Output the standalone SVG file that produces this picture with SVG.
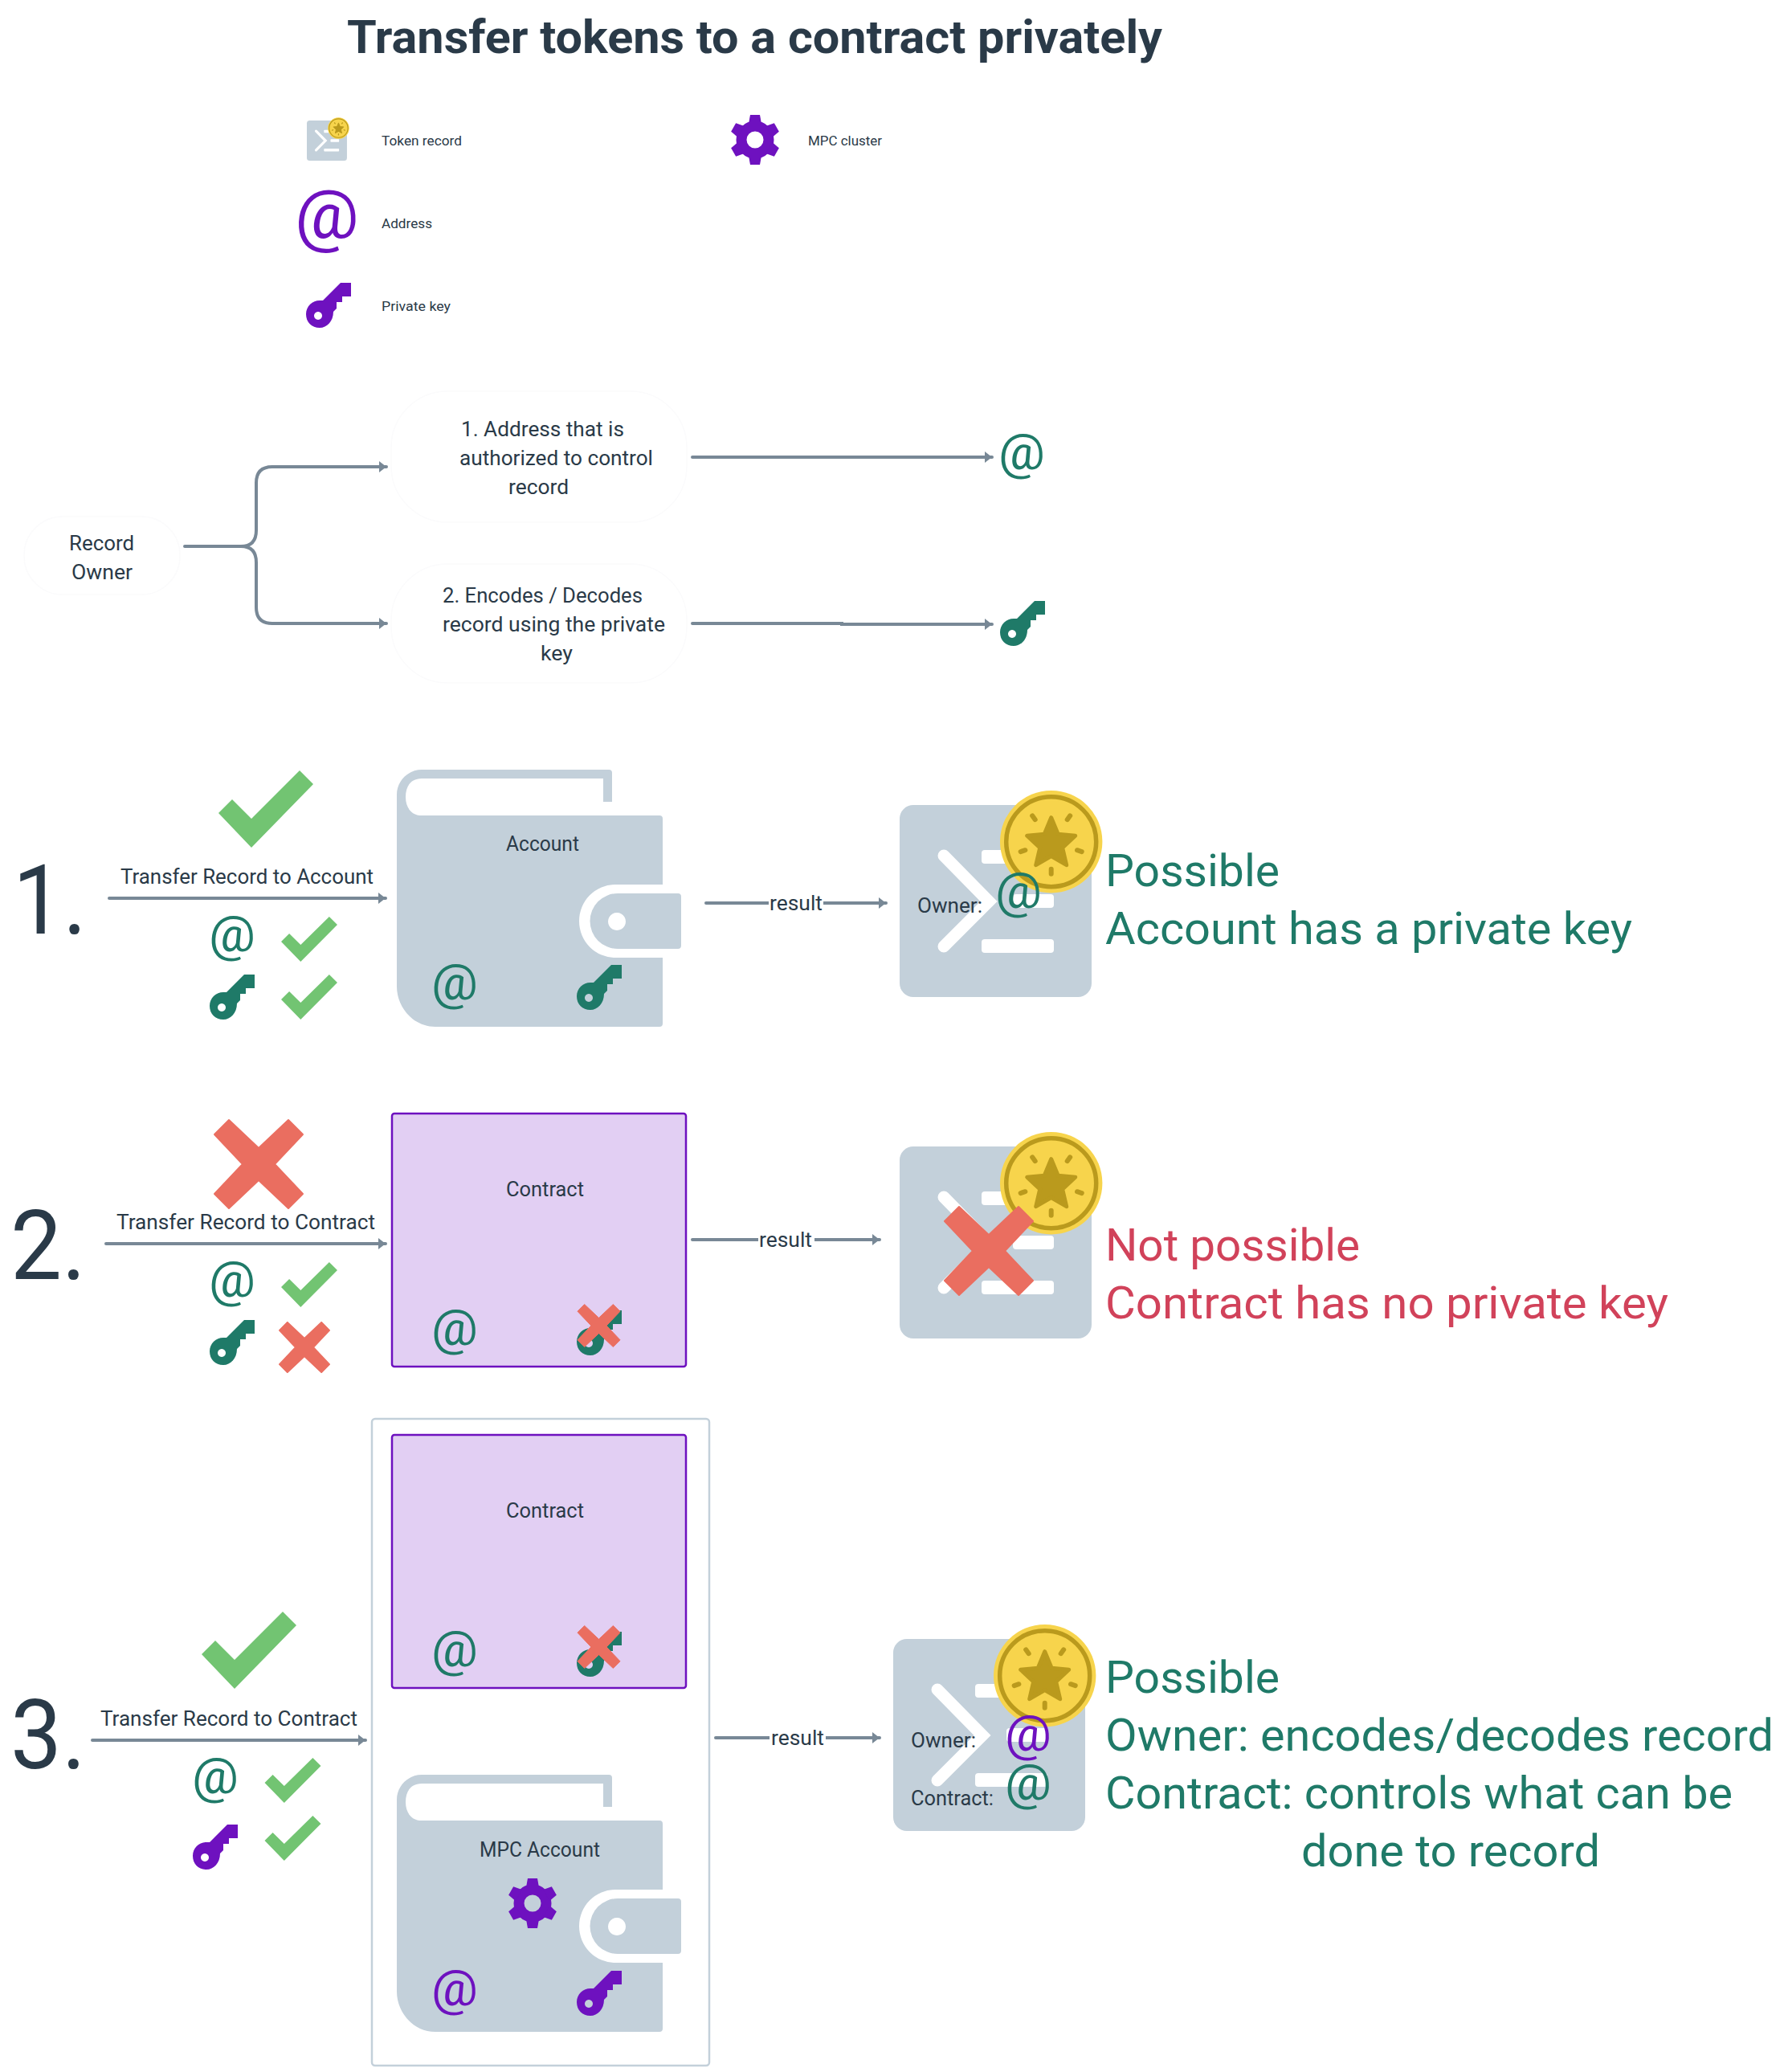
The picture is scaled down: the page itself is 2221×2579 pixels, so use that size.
<svg xmlns="http://www.w3.org/2000/svg" xmlns:xlink="http://www.w3.org/1999/xlink" width="2221" height="2579" viewBox="0 0 2221 2579">
<style>
text{font-family:Roboto,"Noto Sans","Liberation Sans",sans-serif;fill:#2a3a48}
.t{font-size:25px}
.s{font-size:17px}
.big{font-size:120px}
.title{font-size:57px;font-weight:700}
.g{font-size:56px;fill:#1f7a68}
.r{font-size:56px;fill:#d1425a}
.at{font-size:62px;text-anchor:middle}
.agreen{fill:#1f7a68}
.apurple{fill:#6e11bf}
.green{fill:#1f7a68}
.purple{fill:#6e11bf}
.contract{fill:#e2cff3;stroke:#6e11bf;stroke-width:2.5}
.node{fill:#fff;stroke:#fbfbfc;stroke-width:1.5}
.c{fill:none;stroke:#788896;stroke-width:4;stroke-linecap:round;marker-end:url(#arrow)}
</style>
<defs>
<marker id="arrow" markerUnits="userSpaceOnUse" markerWidth="12" markerHeight="16" refX="10" refY="7" orient="auto"><path d="M1 0L10 7L1 14Z" fill="#788896"/></marker>
<path id="key" fill-rule="evenodd" d="M43 0H56V17H45V24H38V32L34 36C34 48 26 56 17 56C7 56 0 49 0 39C0 29 8 22 17 22H21ZM15 36a5 5 0 1 0 0.01 0Z"/>
<g id="gear"><circle r="17" fill="none" stroke="currentColor" stroke-width="13"/><g fill="currentColor"><path id="tooth" d="M-6-31H6L8-20H-8Z"/><use href="#tooth" transform="rotate(60)"/><use href="#tooth" transform="rotate(120)"/><use href="#tooth" transform="rotate(180)"/><use href="#tooth" transform="rotate(240)"/><use href="#tooth" transform="rotate(300)"/></g></g>
<path id="check" d="M101 0L118 17L41 96L0 53L17 36L41 60Z" fill="#72c472"/>
<path id="cross" d="M-37-55L-55-37L-20 0L-55 37L-37 55L0 20L37 55L55 37L20 0L55-37L37-55L0-20Z" fill="#ea6e60" stroke="#ea6e60" stroke-width="2" stroke-linejoin="round"/>
<g id="wallet" fill="#c3d0da">
<path d="M31 0H264a4 4 0 0 1 4 4V40H257V11H31C18 11 11 20 11 34C11 47 18 57 31 57H327a4 4 0 0 1 4 4V143H272a45 45.5 0 0 0 0 91H331V316a4 4 0 0 1-4 4H48C20 320 0 295 0 270V31C0 14 14 0 31 0Z"/>
<path fill-rule="evenodd" d="M275 154H350a4 4 0 0 1 4 4V219a4 4 0 0 1-4 4H275a34.5 34.5 0 0 1 0-69ZM274 178a11 11 0 1 0 .01 0Z"/>
</g>
<g id="record">
<rect width="239" height="239" rx="17" fill="#c3d0da"/>
<path d="M55 63L111 120L55 176" fill="none" stroke="#fff" stroke-width="15" stroke-linejoin="miter" stroke-linecap="round"/>
<rect x="102" y="56" width="90" height="17" rx="4" fill="#fff"/><rect x="141" y="111" width="51" height="17" rx="4" fill="#fff"/><rect x="102" y="167" width="90" height="17" rx="4" fill="#fff"/>
<g transform="translate(188.7 45.7)">
<circle r="63.7" fill="#f7d44c"/><circle r="56" fill="none" stroke="#ba9a1d" stroke-width="5.5"/>
<path d="M0-30L8.5-9.5L30-7.5L14 7.5L19 29L0 18L-19 29L-14 7.5L-30-7.5L-8.5-9.5Z" fill="#ba9a1d" stroke="#ba9a1d" stroke-width="5" stroke-linejoin="round"/>
<g stroke="#ba9a1d" stroke-width="6" stroke-linecap="round"><path id="ray" d="M0 34V40"/><use href="#ray" transform="rotate(72)"/><use href="#ray" transform="rotate(144)"/><use href="#ray" transform="rotate(216)"/><use href="#ray" transform="rotate(288)"/></g>
</g>
</g>
</defs>
<rect width="2221" height="2579" fill="#fff"/>

<text class="title" x="432" y="66" textLength="1015" lengthAdjust="spacingAndGlyphs">Transfer tokens to a contract privately</text>

<g id="legend-token-record"><use href="#record" transform="translate(382 150) scale(.209)"/><text class="s" x="475" y="181" textLength="100" lengthAdjust="spacingAndGlyphs">Token record</text></g>
<g id="legend-mpc-cluster"><use href="#gear" class="purple" color="#6e11bf" transform="translate(940 174)"/><text class="s" x="1006" y="181" textLength="92" lengthAdjust="spacingAndGlyphs">MPC cluster</text></g>
<g id="legend-address"><text class="at apurple" x="407" y="296" style="font-size:85px" textLength="80" lengthAdjust="spacingAndGlyphs">@</text><text class="s" x="475" y="284" textLength="63" lengthAdjust="spacingAndGlyphs">Address</text></g>
<g id="legend-private-key"><use href="#key" class="purple" x="381" y="352"/><text class="s" x="475" y="387" textLength="86" lengthAdjust="spacingAndGlyphs">Private key</text></g>

<g id="connectors">
<path class="c" d="M230 680H300Q319 680 319 660V601Q319 581 339 581H481"/>
<path class="c" d="M300 680Q319 680 319 700V756Q319 776 339 776H481"/>
<path class="c" d="M862 569H1235"/>
<path class="c" d="M862 776H1048V777H1235"/>
<path class="c" d="M136 1118H480"/>
<path class="c" d="M879 1124H1103"/>
<path class="c" d="M132 1548H480"/>
<path class="c" d="M862 1543H1095"/>
<path class="c" d="M115 2166H455"/>
<path class="c" d="M891 2163H1095"/>
<rect x="957" y="1106" width="68" height="36" fill="#fff"/><text class="t" x="958" y="1133" textLength="66" lengthAdjust="spacingAndGlyphs">result</text>
<rect x="944" y="1525" width="70" height="36" fill="#fff"/><text class="t" x="945" y="1552" textLength="66" lengthAdjust="spacingAndGlyphs">result</text>
<rect x="958" y="2145" width="70" height="36" fill="#fff"/><text class="t" x="960" y="2172" textLength="66" lengthAdjust="spacingAndGlyphs">result</text>
<text class="t" x="150" y="1100" textLength="315" lengthAdjust="spacingAndGlyphs">Transfer Record to Account</text>
<text class="t" x="145" y="1530" textLength="322" lengthAdjust="spacingAndGlyphs">Transfer Record to Contract</text>
<text class="t" x="125" y="2148" textLength="320" lengthAdjust="spacingAndGlyphs">Transfer Record to Contract</text>
</g>

<g id="node-record-owner"><rect class="node" x="30" y="643" width="194" height="97" rx="48"/><text class="t" x="86" y="685" textLength="81" lengthAdjust="spacingAndGlyphs">Record</text><text class="t" x="89" y="721" textLength="76" lengthAdjust="spacingAndGlyphs">Owner</text></g>
<g id="node-address-role"><rect class="node" x="487" y="487" width="368" height="163" rx="70"/><text class="t" x="574" y="543" textLength="203" lengthAdjust="spacingAndGlyphs">1. Address that is</text><text class="t" x="572" y="579" textLength="241" lengthAdjust="spacingAndGlyphs">authorized to control</text><text class="t" x="633" y="615" textLength="75" lengthAdjust="spacingAndGlyphs">record</text></g>
<g id="node-key-role"><rect class="node" x="487" y="702" width="368" height="148" rx="70"/><text class="t" x="551" y="750" textLength="249" lengthAdjust="spacingAndGlyphs">2. Encodes / Decodes</text><text class="t" x="551" y="786" textLength="277" lengthAdjust="spacingAndGlyphs">record using the private</text><text class="t" x="673" y="822" textLength="40" lengthAdjust="spacingAndGlyphs">key</text></g>
<g id="icon-address"><text class="at agreen" x="1272" y="584" textLength="58" lengthAdjust="spacingAndGlyphs">@</text></g>
<g id="icon-key"><use href="#key" class="green" x="1245" y="748"/></g>

<g id="step-1">
<text class="big" x="16" y="1162" textLength="92" lengthAdjust="spacingAndGlyphs">1.</text>
<use href="#check" x="272" y="959"/>
<text class="at agreen" x="289" y="1184" textLength="58" lengthAdjust="spacingAndGlyphs">@</text>
<use href="#check" transform="translate(350 1141) scale(.593 .583)"/>
<use href="#key" class="green" x="261" y="1213"/>
<use href="#check" transform="translate(350 1213) scale(.593 .583)"/>
</g>
<g id="node-account">
<use href="#wallet" x="494" y="958"/>
<text class="t" x="630" y="1059" textLength="91" lengthAdjust="spacingAndGlyphs">Account</text>
<text class="at agreen" x="566" y="1244" textLength="58" lengthAdjust="spacingAndGlyphs">@</text>
<use href="#key" class="green" x="718" y="1201"/>
</g>
<g id="result-1">
<use href="#record" x="1120" y="1002"/>
<text class="t" x="1142" y="1136" textLength="81" lengthAdjust="spacingAndGlyphs">Owner:</text>
<text class="at agreen" x="1268" y="1130" textLength="58" lengthAdjust="spacingAndGlyphs">@</text>
<text class="g" x="1376" y="1103" textLength="217" lengthAdjust="spacingAndGlyphs">Possible</text>
<text class="g" x="1376" y="1175" textLength="656" lengthAdjust="spacingAndGlyphs">Account has a private key</text>
</g>

<g id="step-2">
<text class="big" x="13" y="1592" textLength="94" lengthAdjust="spacingAndGlyphs">2.</text>
<use href="#cross" x="322" y="1449"/>
<text class="at agreen" x="289" y="1614" textLength="58" lengthAdjust="spacingAndGlyphs">@</text>
<use href="#check" transform="translate(350 1571) scale(.593 .583)"/>
<use href="#key" class="green" x="261" y="1643"/>
<use href="#cross" transform="translate(379 1677) scale(.573)"/>
</g>
<g id="node-contract">
<rect class="contract" x="488" y="1386" width="366" height="315" rx="3"/>
<text class="t" x="630" y="1489" textLength="97" lengthAdjust="spacingAndGlyphs">Contract</text>
<text class="at agreen" x="566" y="1674" textLength="58" lengthAdjust="spacingAndGlyphs">@</text>
<use href="#key" class="green" x="718" y="1631"/>
<use href="#cross" transform="translate(745.5 1650) scale(.482)"/>
</g>
<g id="result-2">
<use href="#record" x="1120" y="1427"/>
<use href="#cross" x="1231" y="1557"/>
<text class="r" x="1376" y="1569" textLength="317" lengthAdjust="spacingAndGlyphs">Not possible</text>
<text class="r" x="1376" y="1641" textLength="701" lengthAdjust="spacingAndGlyphs">Contract has no private key</text>
</g>

<g id="step-3">
<text class="big" x="13" y="2201" textLength="94" lengthAdjust="spacingAndGlyphs">3.</text>
<use href="#check" x="251" y="2006"/>
<text class="at agreen" x="268" y="2232" textLength="58" lengthAdjust="spacingAndGlyphs">@</text>
<use href="#check" transform="translate(329.5 2188) scale(.593 .583)"/>
<use href="#key" class="purple" x="240" y="2271"/>
<use href="#check" transform="translate(329.5 2260) scale(.593 .583)"/>
</g>
<g id="node-mpc-group">
<rect x="463" y="1766" width="420" height="805" rx="4" fill="#fff" stroke="#c3d0da" stroke-width="2.5"/>
<rect class="contract" x="488" y="1786" width="366" height="315" rx="3"/>
<text class="t" x="630" y="1889" textLength="97" lengthAdjust="spacingAndGlyphs">Contract</text>
<text class="at agreen" x="566" y="2074" textLength="58" lengthAdjust="spacingAndGlyphs">@</text>
<use href="#key" class="green" x="718" y="2031"/>
<use href="#cross" transform="translate(745.5 2050) scale(.482)"/>
<use href="#wallet" x="494" y="2209"/>
<text class="t" x="597" y="2311" textLength="150" lengthAdjust="spacingAndGlyphs">MPC Account</text>
<use href="#gear" color="#6e11bf" transform="translate(663 2369)"/>
<text class="at apurple" x="566" y="2496" textLength="58" lengthAdjust="spacingAndGlyphs">@</text>
<use href="#key" class="purple" x="718" y="2453"/>
</g>
<g id="result-3">
<use href="#record" x="1112" y="2040"/>
<text class="t" x="1134" y="2175" textLength="81" lengthAdjust="spacingAndGlyphs">Owner:</text>
<text class="at apurple" x="1280" y="2179" textLength="58" lengthAdjust="spacingAndGlyphs">@</text>
<text class="t" x="1134" y="2247" textLength="103" lengthAdjust="spacingAndGlyphs">Contract:</text>
<text class="at agreen" x="1280" y="2240" textLength="58" lengthAdjust="spacingAndGlyphs">@</text>
<text class="g" x="1376" y="2107" textLength="217" lengthAdjust="spacingAndGlyphs">Possible</text>
<text class="g" x="1376" y="2179" textLength="832" lengthAdjust="spacingAndGlyphs">Owner: encodes/decodes record</text>
<text class="g" x="1376" y="2251" textLength="781" lengthAdjust="spacingAndGlyphs">Contract: controls what can be</text>
<text class="g" x="1620" y="2323" textLength="372" lengthAdjust="spacingAndGlyphs">done to record</text>
</g>
</svg>
